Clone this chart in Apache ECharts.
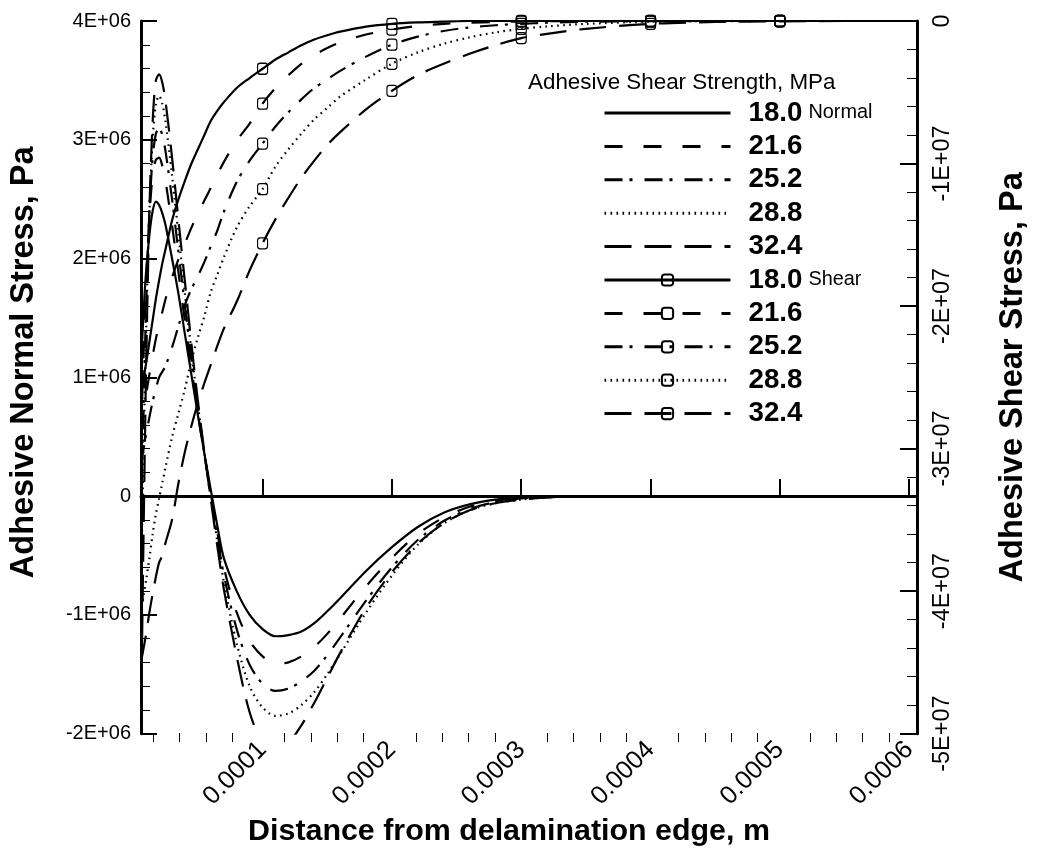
<!DOCTYPE html>
<html><head><meta charset="utf-8">
<script src="https://cdn.jsdelivr.net/npm/echarts@6/dist/echarts.min.js"></script>
<style>html,body{margin:0;padding:0;background:#fff}#c{width:1038px;height:852px}</style>
</head><body><div id="c"></div>
<script>
// distance from delamination edge, in units of 1e-4 m
const U = [0.06,0.08,0.1,0.125,0.15,0.175,0.2,0.225,0.25,0.3,0.35,0.4,0.45,0.5,0.55,0.6,0.65,0.7,0.8,0.9,1.0,1.1,1.2,1.3,1.4,1.5,1.6,1.8,2.0,2.2,2.4,2.6,2.8,3.0,3.2,3.5,4.0,4.5,5.0,5.5,6.06];
// adhesive normal stress, units of 1e6 Pa
const NORMAL_180 = [1.1,1.55,1.9,2.2,2.4,2.48,2.45,2.38,2.28,2.0,1.7,1.36,1.02,0.68,0.36,0.05,-0.25,-0.52,-0.8,-1.0,-1.12,-1.18,-1.17,-1.14,-1.07,-0.97,-0.86,-0.63,-0.43,-0.26,-0.14,-0.07,-0.03,-0.01,0,0,0,0,0,0,0];
const NORMAL_216 = [0.5,1.2,1.8,2.35,2.7,2.83,2.85,2.78,2.65,2.28,1.88,1.47,1.08,0.7,0.35,0.02,-0.3,-0.6,-0.98,-1.22,-1.35,-1.41,-1.4,-1.35,-1.27,-1.16,-1.03,-0.76,-0.52,-0.32,-0.18,-0.09,-0.04,-0.02,-0.01,0,0,0,0,0,0];
const NORMAL_252 = [-0.1,0.8,1.6,2.4,2.85,3.05,3.1,3.04,2.9,2.5,2.05,1.6,1.15,0.74,0.36,0.0,-0.34,-0.66,-1.12,-1.42,-1.58,-1.64,-1.62,-1.56,-1.47,-1.34,-1.19,-0.88,-0.6,-0.37,-0.21,-0.11,-0.05,-0.02,-0.01,0,0,0,0,0,0];
const NORMAL_288 = [-0.8,0.4,1.4,2.4,3.0,3.3,3.37,3.3,3.15,2.7,2.2,1.7,1.22,0.77,0.36,-0.02,-0.38,-0.72,-1.24,-1.6,-1.78,-1.85,-1.83,-1.76,-1.65,-1.5,-1.33,-0.98,-0.67,-0.41,-0.23,-0.12,-0.06,-0.03,-0.01,0,0,0,0,0,0];
const NORMAL_324 = [-1.9,-0.3,1.1,2.4,3.15,3.5,3.55,3.48,3.32,2.85,2.32,1.8,1.28,0.8,0.37,-0.03,-0.42,-0.78,-1.35,-1.82,-2.08,-2.15,-2.08,-1.93,-1.74,-1.53,-1.32,-0.94,-0.64,-0.4,-0.23,-0.12,-0.06,-0.03,-0.01,0,0,0,0,0,0];
// adhesive shear stress, units of 1e7 Pa
const SHEAR_180 = [-2.6,-2.5,-2.4,-2.25,-2.1,-1.95,-1.82,-1.7,-1.6,-1.4,-1.25,-1.12,-1.0,-0.9,-0.8,-0.7,-0.63,-0.57,-0.47,-0.4,-0.335,-0.27,-0.22,-0.17,-0.13,-0.1,-0.075,-0.04,-0.02,-0.01,-0.005,0,0,0,0,0,0,0,0,0,0];
const SHEAR_216 = [-2.86,-2.74,-2.62,-2.48,-2.35,-2.23,-2.13,-2.04,-1.95,-1.8,-1.67,-1.56,-1.45,-1.35,-1.26,-1.17,-1.08,-0.99,-0.84,-0.72,-0.58,-0.47,-0.38,-0.3,-0.24,-0.19,-0.15,-0.095,-0.06,-0.035,-0.02,-0.012,-0.007,-0.004,-0.002,0,0,0,0,0,0];
const SHEAR_252 = [-3.1,-3.0,-2.9,-2.78,-2.67,-2.58,-2.5,-2.46,-2.42,-2.29,-2.14,-1.99,-1.88,-1.79,-1.69,-1.58,-1.47,-1.34,-1.13,-0.98,-0.86,-0.74,-0.64,-0.55,-0.47,-0.41,-0.35,-0.25,-0.166,-0.11,-0.07,-0.045,-0.03,-0.02,-0.012,-0.005,-0.001,0,0,0,0];
const SHEAR_288 = [-4.15,-4.03,-3.92,-3.77,-3.6,-3.46,-3.35,-3.24,-3.13,-2.92,-2.75,-2.58,-2.38,-2.22,-2.07,-1.9,-1.78,-1.66,-1.45,-1.3,-1.18,-1.02,-0.9,-0.79,-0.69,-0.61,-0.53,-0.41,-0.3,-0.22,-0.16,-0.115,-0.08,-0.055,-0.038,-0.02,-0.005,-0.001,0,0,0];
const SHEAR_324 = [-4.5,-4.4,-4.3,-4.15,-4.02,-3.9,-3.8,-3.75,-3.66,-3.5,-3.24,-3.02,-2.84,-2.68,-2.54,-2.41,-2.28,-2.16,-1.97,-1.75,-1.56,-1.39,-1.24,-1.1,-0.98,-0.87,-0.78,-0.62,-0.49,-0.38,-0.3,-0.23,-0.17,-0.12,-0.09,-0.055,-0.02,-0.007,-0.002,0,0];
const MARKER_U = [1.0,2.0,3.0,4.0,5.0];
const STRENGTHS = ['18.0','21.6','25.2','28.8','32.4'];
const X_TICKS = [0.0001,0.0002,0.0003,0.0004,0.0005,0.0006];
const X_MIN = 0.000006, X_MAX = 0.000606;

// font handling
const cv = document.createElement('canvas').getContext('2d');
function hasFont(name){
  cv.font = 'bold 50px monospace'; const a = cv.measureText('Adhesive Normal Stress').width;
  cv.font = 'bold 50px "'+name+'", monospace'; const b = cv.measureText('Adhesive Normal Stress').width;
  return a !== b;
}
const FAM = hasFont('Liberation Sans Narrow') ? '"Liberation Sans Narrow", "Liberation Sans", Arial, sans-serif' : '"Liberation Sans", Arial, sans-serif';
function fit(text, weight, target){
  cv.font = weight + ' 100px ' + FAM;
  return Math.round(100 * target / cv.measureText(text).width * 10) / 10;
}
const fsXTitle = fit('Distance from delamination edge, m','bold',522);
const fsYTitle = fit('Adhesive Normal Stress, Pa','bold',432);
const fsLeftTick = 20;
const fsRightTick = fit('-1E+07','normal',76);
const fsXTick = fit('0.0001','normal',78);
const fsLegTitle = fit('Adhesive Shear Strength, MPa','normal',307);
const fsLegNum = fit('18.0','bold',54);
const fsLegSub = fit('Normal','normal',64);

const minorX = [];
for (let k = 1; k <= 30; k++) if (k % 5) minorX.push(+(k*2e-5).toFixed(6));

const dashes = ['solid',[18,21],[18,7,3,12],[1.6,4.4],[27,13]];
const normalSets = [NORMAL_180,NORMAL_216,NORMAL_252,NORMAL_288,NORMAL_324];
const shearSets = [SHEAR_180,SHEAR_216,SHEAR_252,SHEAR_288,SHEAR_324];

const series = [];
normalSets.forEach((vals,i)=>{
  series.push({
    name:'Normal '+STRENGTHS[i], type:'line', xAxisIndex:0, yAxisIndex:0,
    symbol:'none', smooth:0.3, clip:true,
    itemStyle:{color:'rgba(0,0,0,0)', borderWidth:0},
    lineStyle:{color:'#000', width:2.2, type:dashes[i]},
    data:U.map((u,j)=>[u*1e-4, vals[j]*1e6])
  });
});
shearSets.forEach((vals,i)=>{
  series.push({
    name:'Shear '+STRENGTHS[i], type:'line', xAxisIndex:0, yAxisIndex:1,
    symbol:'roundRect', symbolSize:[10,11], showSymbol:true, smooth:0.3, clip:true,
    itemStyle:{color:'rgba(255,255,255,0)', borderColor:'#000', borderWidth:1.2},
    lineStyle:{color:'#000', width:2.2, type:dashes[i]},
    data:U.map((u,j)=>{
      const p=[u*1e-4, vals[j]*1e7];
      return MARKER_U.indexOf(u) >= 0 ? {value:p} : {value:p, symbol:'none'};
    })
  });
});

const legendNames = series.map(s=>s.name);
const GRID = {left:135, right:115, top:21, bottom:110, containLabel:false};
const chart = echarts.init(document.getElementById('c'), null, {renderer:'canvas'});
chart.setOption({
  animation:false,
  backgroundColor:'#fff',
  grid:[Object.assign({}, GRID), Object.assign({}, GRID)],
  xAxis:[{
    gridIndex:0, type:'value', min:X_MIN, max:X_MAX, position:'bottom',
    axisLine:{show:true, lineStyle:{color:'#000', width:3}},
    axisTick:{show:true, inside:true, length:17, lineStyle:{color:'#000', width:2}, customValues:X_TICKS},
    axisLabel:{show:true, rotate:45, margin:12, customValues:X_TICKS, color:'#000', fontFamily:FAM, fontSize:fsXTick,
      formatter:v=>v.toFixed(4)},
    splitLine:{show:false},
    name:'Distance from delamination edge, m', nameLocation:'middle', nameGap:58,
    nameTextStyle:{color:'#000', fontFamily:FAM, fontWeight:'bold', fontSize:fsXTitle, padding:[0,40,0,0]}
  },{
    gridIndex:1, type:'value', min:X_MIN, max:X_MAX, position:'bottom',
    axisLine:{show:false},
    axisTick:{show:true, inside:true, length:9, lineStyle:{color:'#000', width:1}, customValues:minorX},
    axisLabel:{show:false}, splitLine:{show:false}
  }],
  yAxis:[{
    gridIndex:0, type:'value', min:-2e6, max:4e6, interval:1e6, position:'left',
    axisLine:{show:true, lineStyle:{color:'#000', width:3}},
    axisTick:{show:true, inside:true, length:16, lineStyle:{color:'#000', width:2}},
    minorTick:{show:true, splitNumber:5, length:9, lineStyle:{color:'#000', width:1}},
    axisLabel:{color:'#000', fontFamily:FAM, fontSize:fsLeftTick, margin:10,
      formatter:v=> v===0 ? '0' : (v/1e6)+'E+06'},
    splitLine:{show:false},
    name:'Adhesive Normal Stress, Pa', nameLocation:'middle', nameRotate:90, nameGap:100,
    nameTextStyle:{color:'#000', fontFamily:FAM, fontWeight:'bold', fontSize:fsYTitle, padding:[0,0,0,30]}
  },{
    gridIndex:0, type:'value', min:-5e7, max:0, interval:1e7, position:'right',
    axisLine:{show:true, lineStyle:{color:'#000', width:3}},
    axisTick:{show:true, inside:true, length:17, lineStyle:{color:'#000', width:2}},
    minorTick:{show:true, splitNumber:5, length:10, lineStyle:{color:'#000', width:1}},
    axisLabel:{color:'#000', fontFamily:FAM, fontSize:fsRightTick, margin:14, rotate:90,
      formatter:v=> v===0 ? '0' : (v/1e7)+'E+07'},
    splitLine:{show:false},
    name:'Adhesive Shear Stress, Pa', nameLocation:'middle', nameRotate:90, nameGap:80,
    nameTextStyle:{color:'#000', fontFamily:FAM, fontWeight:'bold', fontSize:fsYTitle}
  },{
    gridIndex:1, type:'value', min:0, max:1, show:false
  }],
  legend:{
    orient:'vertical', left:598, top:94, itemWidth:126, itemHeight:14, itemGap:5.4,
    data:legendNames, selectedMode:false,
    lineStyle:{width:3},
    textStyle:{color:'#000', fontFamily:FAM, padding:[0,0,0,13], lineHeight:20,
      rich:{
        b:{fontFamily:FAM, fontWeight:'bold', fontSize:fsLegNum, lineHeight:20, color:'#000'},
        s:{fontFamily:FAM, fontSize:fsLegSub, lineHeight:18, verticalAlign:'top', color:'#000', padding:[0,0,0,6]}
      }},
    formatter:name=>{
      const parts=name.split(' ');
      const sub = (parts[1]==='18.0') ? '{s|'+parts[0]+'}' : '';
      return '{b|'+parts[1]+'}'+sub;
    }
  },
  graphic:[{
    type:'text', left:528, top:72,
    style:{text:'Adhesive Shear Strength, MPa', fill:'#000', font:'normal '+fsLegTitle+'px '+FAM}
  }],
  series:series
});
</script>
</body></html>
